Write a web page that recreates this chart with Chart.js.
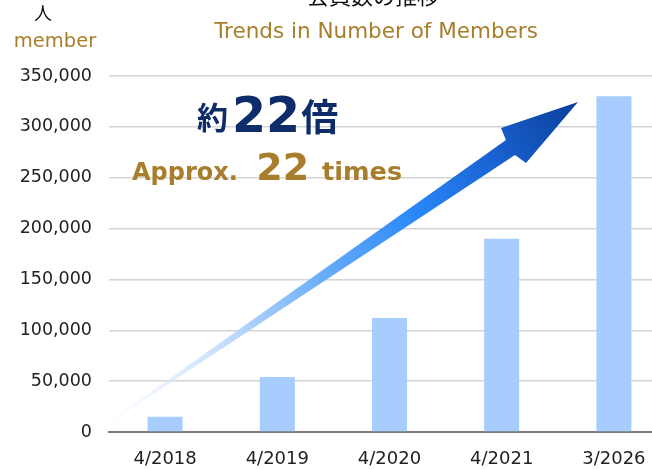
<!DOCTYPE html>
<html>
<head>
<meta charset="utf-8">
<script src="https://cdn.jsdelivr.net/npm/chart.js@4.4.0/dist/chart.umd.min.js"></script>
<style>
  html, body { margin: 0; padding: 0; background: #fff; overflow: hidden; }
  #wrap { position: relative; width: 680px; height: 469px; }
</style>
</head>
<body>
<div id="wrap"><canvas id="myChart" width="680" height="469"></canvas></div>
<script>
var labels = ['4/2018', '4/2019', '4/2020', '4/2021', '3/2026'];
var members = [15000, 54000, 112000, 190000, 330000];
var yTicks = [0, 50000, 100000, 150000, 200000, 250000, 300000, 350000];

var gold = '#a87d2b';
var navy = '#0e2b6a';

// arrow + texts drawn on top of the chart
var decoPlugin = {
    id: 'deco',
    afterDatasetsDraw: function (chart) {
        var ctx = chart.ctx;
        ctx.save();

        // arrow
        var grad = ctx.createLinearGradient(110, 421, 578, 102);
        grad.addColorStop(0, 'rgba(225,238,255,0.15)');
        grad.addColorStop(0.25, '#c2dcfc');
        grad.addColorStop(0.45, '#6aaef8');
        grad.addColorStop(0.65, '#2a88f8');
        grad.addColorStop(0.82, '#1a62d2');
        grad.addColorStop(1, '#0a3f9a');
        ctx.fillStyle = grad;
        ctx.beginPath();
        ctx.moveTo(110, 421);
        ctx.lineTo(506, 140);
        ctx.lineTo(501, 128);
        ctx.lineTo(578, 102);
        ctx.lineTo(526, 163);
        ctx.lineTo(515, 155);
        ctx.lineTo(111, 422);
        ctx.closePath();
        ctx.fill();

        ctx.textBaseline = 'alphabetic';
        ctx.textAlign = 'left';

        // 約22倍
        var x = 197;
        ctx.fillStyle = navy;
        ctx.font = 'bold 31px "Noto Sans CJK JP"';
        ctx.fillText('約', x, 129);
        x += ctx.measureText('約').width + 4;
        ctx.font = 'bold 49px "DejaVu Sans"';
        ctx.fillText('22', x, 132);
        x += ctx.measureText('22').width + 1;
        ctx.font = 'bold 37px "Noto Sans CJK JP"';
        ctx.fillText('倍', x, 131);

        // Approx. 22 times
        x = 132;
        ctx.fillStyle = gold;
        ctx.font = 'bold 24px "DejaVu Sans"';
        ctx.fillText('Approx. ', x, 180);
        x += ctx.measureText('Approx. ').width + 10;
        ctx.font = 'bold 38px "DejaVu Sans"';
        ctx.fillText('22', x, 180);
        x += ctx.measureText('22').width + 13;
        ctx.font = 'bold 25.5px "DejaVu Sans"';
        ctx.fillText('times', x, 180);

        // headings
        ctx.textAlign = 'center';
        ctx.fillStyle = '#111';
        ctx.font = '22px "Noto Sans CJK JP"';
        ctx.fillText('会員数の推移', 373, 4);
        ctx.fillStyle = gold;
        ctx.font = '21.5px "DejaVu Sans"';
        ctx.fillText('Trends in Number of Members', 376, 38);

        ctx.fillStyle = '#111';
        ctx.font = '18px "Noto Sans CJK JP"';
        ctx.fillText('人', 43, 20);
        ctx.fillStyle = gold;
        ctx.font = '19.5px "DejaVu Sans"';
        ctx.fillText('member', 55, 47);

        ctx.restore();
    }
};

var ctx = document.getElementById('myChart').getContext('2d');
var myChart = new Chart(ctx, {
    type: 'bar',
    data: {
        labels: labels,
        datasets: [{
            label: 'members',
            data: members,
            backgroundColor: '#a6cdfd',
            borderWidth: 0,
            categoryPercentage: 1,
            barPercentage: 0.312
        }]
    },
    options: {
        responsive: false,
        animation: false,
        devicePixelRatio: 1,
        layout: { padding: { top: 76, right: 10, left: 0, bottom: 0 } },
        plugins: {
            legend: { display: false },
            tooltip: { enabled: false }
        },
        scales: {
            x: {
                grid: { display: false },
                border: { color: '#7a7a7a', width: 2 },
                ticks: {
                    color: '#222',
                    font: { family: 'DejaVu Sans', size: 18 },
                    padding: 9
                },
                afterFit: function (scale) { scale.height = 37; }
            },
            y: {
                min: 0,
                max: 350000,
                afterBuildTicks: function (scale) {
                    scale.ticks = yTicks.map(function (v) { return { value: v }; });
                },
                grid: { color: '#d4d4d4', lineWidth: 1.5, drawTicks: false },
                border: { display: false },
                ticks: {
                    color: '#222',
                    font: { family: 'DejaVu Sans', size: 17.5 },
                    padding: 17,
                    callback: function (v) { return v.toLocaleString('en-US'); }
                },
                afterFit: function (scale) { scale.width = 109; }
            }
        }
    },
    plugins: [decoPlugin]
});
</script>
</body>
</html>
